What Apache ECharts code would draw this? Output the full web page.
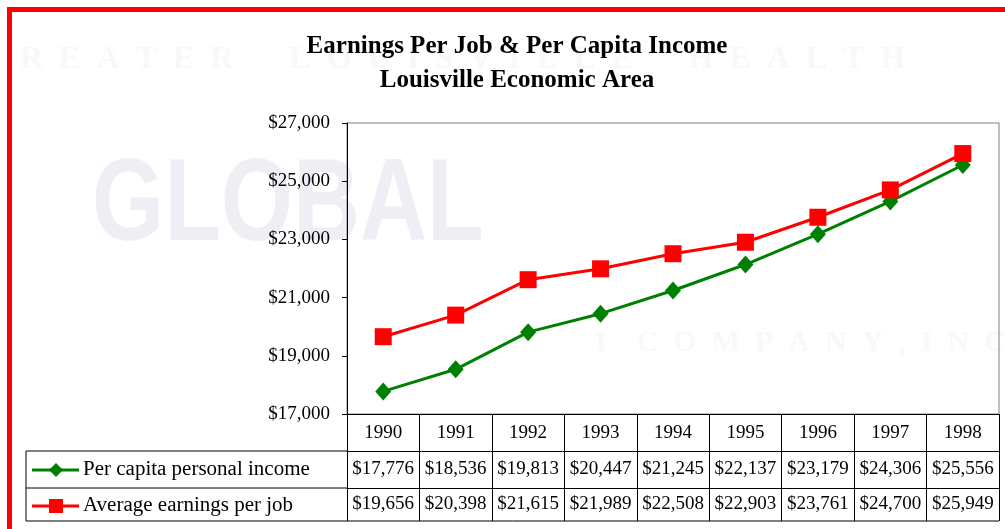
<!DOCTYPE html>
<html>
<head>
<meta charset="utf-8">
<script src="https://cdn.jsdelivr.net/npm/echarts@6/dist/echarts.min.js"></script>
<style>
html, body { margin: 0; padding: 0; background: #fff; }
#main { width: 1005px; height: 529px; }
</style>
</head>
<body>
<div id="main"></div>
<script>
var years = ['1990', '1991', '1992', '1993', '1994', '1995', '1996', '1997', '1998'];
var perCapita = [17776, 18536, 19813, 20447, 21245, 22137, 23179, 24306, 25556];
var avgEarnings = [19656, 20398, 21615, 21989, 22508, 22903, 23761, 24700, 25949];
var seriesNames = ['Per capita personal income', 'Average earnings per job'];
var yMin = 17000, yMax = 27000, yStep = 2000;

var serif = '"Liberation Serif", "Times New Roman", serif';
function money(v) {
	return '$' + Number(v).toLocaleString('en-US');
}

var myChart = echarts.init(document.getElementById('main'));

// x axes stacked under the plot make up the data table rows
function tableAxis(offset, tickLen, margin, fmt) {
	return {
		type : 'category',
		data : years,
		position : 'bottom',
		offset : offset,
		boundaryGap : true,
		axisLine : { show : true, lineStyle : { color : '#000', width : 1 } },
		axisTick : { show : true, interval : 0, length : tickLen, lineStyle : { color : '#000' } },
		axisLabel : { interval : 0, margin : margin, color : '#000', fontFamily : serif, fontSize : 19, formatter : fmt },
		splitLine : { show : false }
	};
}

var option = {
	animation : false,
	backgroundColor : '#fff',
	title : {
		text : 'Earnings Per Job & Per Capita Income\nLouisville Economic Area',
		left : 512,
		textAlign : 'center',
		top : 25,
		textStyle : { fontFamily : serif, fontWeight : 'bold', fontSize : 25, lineHeight : 34, color : '#000' }
	},
	grid : {
		left : 347, top : 123, right : 6, bottom : 115,
		show : true, borderColor : '#808080', borderWidth : 1, backgroundColor : 'transparent'
	},
	xAxis : [
		tableAxis(0, 37, 10, function(v) { return v; }),
		tableAxis(37, 37, 9, function(v, i) { return money(perCapita[i]); }),
		tableAxis(74, 33, 7, function(v, i) { return money(avgEarnings[i]); })
	],
	yAxis : {
		type : 'value',
		min : yMin, max : yMax, interval : yStep,
		axisLine : { show : true, lineStyle : { color : '#000' } },
		axisTick : { show : true, length : 5, lineStyle : { color : '#000' } },
		axisLabel : { margin : 17, color : '#000', fontFamily : serif, fontSize : 19, formatter : money },
		splitLine : { show : false }
	},
	series : [ {
		name : seriesNames[0],
		type : 'line',
		data : perCapita,
		symbol : 'diamond',
		symbolSize : [16, 18],
		itemStyle : { color : '#008000' },
		lineStyle : { color : '#008000', width : 3 }
	}, {
		name : seriesNames[1],
		type : 'line',
		data : avgEarnings,
		symbol : 'rect',
		symbolSize : 17,
		itemStyle : { color : '#ff0000' },
		lineStyle : { color : '#ff0000', width : 3 }
	} ],
	graphic : [
		// faint, blurred watermark behind the chart
		{ type : 'text', z : -10, left : 92, top : 150, scaleX : 0.8,
			style : { text : 'GLOBAL', font : 'bold 116px "Liberation Sans", Arial, sans-serif', fill : 'rgba(205,205,225,0.35)',
				shadowBlur : 6, shadowColor : 'rgba(205,205,225,0.5)' } },
		{ type : 'text', z : -10, left : 20, top : 44,
			style : { text : 'R  E  A  T  E  R       L  O  U  I  S  V  I  L  L  E       H  E  A  L  T  H', font : 'bold 32px "Liberation Serif", serif', fill : 'rgba(215,215,220,0.18)',
				shadowBlur : 6, shadowColor : 'rgba(215,215,220,0.4)' } },
		{ type : 'text', z : -10, left : 595, top : 328,
			style : { text : 'I    C  O  M  P  A  N  Y  ,  I  N  C', font : 'bold 30px "Liberation Serif", serif', fill : 'rgba(215,215,220,0.18)',
				shadowBlur : 6, shadowColor : 'rgba(215,215,220,0.4)' } },
		// red frame
		{ type : 'rect', shape : { x : 9.5, y : 9.5, width : 1010, height : 540 },
			style : { fill : 'none', stroke : '#ff0000', lineWidth : 5 } },
		// table left part
		{ type : 'line', shape : { x1 : 26, y1 : 451, x2 : 347, y2 : 451 }, style : { stroke : '#000', lineWidth : 1 } },
		{ type : 'line', shape : { x1 : 26, y1 : 488, x2 : 347, y2 : 488 }, style : { stroke : '#000', lineWidth : 1 } },
		{ type : 'line', shape : { x1 : 26, y1 : 521, x2 : 999, y2 : 521 }, style : { stroke : '#000', lineWidth : 1 } },
		{ type : 'line', shape : { x1 : 26, y1 : 451, x2 : 26, y2 : 521 }, style : { stroke : '#000', lineWidth : 1 } },
		// legend keys in the table
		{ type : 'line', shape : { x1 : 32, y1 : 470, x2 : 79, y2 : 470 }, style : { stroke : '#008000', lineWidth : 3 } },
		{ type : 'polygon', shape : { points : [[56, 463], [63, 470], [56, 477], [49, 470]] }, style : { fill : '#008000' } },
		{ type : 'line', shape : { x1 : 32, y1 : 506, x2 : 79, y2 : 506 }, style : { stroke : '#ff0000', lineWidth : 3 } },
		{ type : 'rect', shape : { x : 49, y : 499, width : 14, height : 14 }, style : { fill : '#ff0000' } },
		{ type : 'text', left : 83, top : 460, scaleX : 1.05,
			style : { text : seriesNames[0], font : '20px ' + serif, fill : '#000' } },
		{ type : 'text', left : 83, top : 496, scaleX : 1.05,
			style : { text : seriesNames[1], font : '20px ' + serif, fill : '#000' } }
	]
};
myChart.setOption(option);
</script>
</body>
</html>
